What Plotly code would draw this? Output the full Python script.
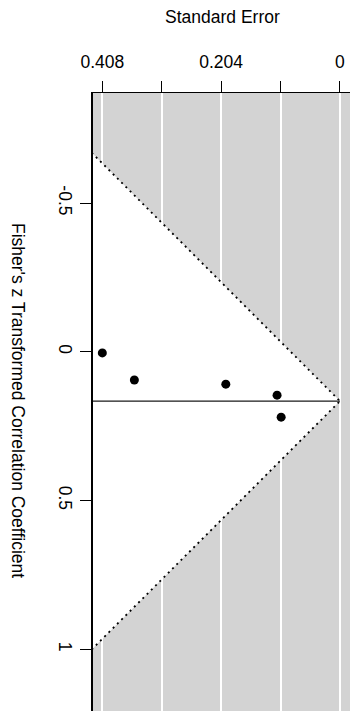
import plotly.graph_objects as go

# Data
se = [0.408, 0.353, 0.196, 0.108, 0.101]          # standard errors
zr = [0.004, 0.095, 0.109, 0.146, 0.220]          # Fisher's z values
estimate = 0.166                                   # pooled estimate
se_ticks = [0, 0.102, 0.204, 0.306, 0.408]
se_ticktext = ["0", "", "0.204", "", "0.408"]
z_ticks = [-0.5, 0, 0.5, 1]
z_ticktext = ["-0.5", "0", "0.5", "1"]
crit = 1.96

se_range = [0.424, -0.0172]
z_range = [1.208, -0.870]
se_ext = 0.47

FONT = "Liberation Sans, Arial, Helvetica, sans-serif"
FS = 17.5

fig = go.Figure()

# white funnel region
fig.add_trace(go.Scatter(
    x=[se_ext, 0, se_ext, se_ext],
    y=[estimate - crit * se_ext, estimate, estimate + crit * se_ext, estimate - crit * se_ext],
    mode="lines", fill="toself", fillcolor="white", line=dict(width=0),
    hoverinfo="skip", showlegend=False))

# dotted pseudo-confidence lines
for sgn in (-1, 1):
    fig.add_trace(go.Scatter(
        x=[se_ext, 0], y=[estimate + sgn * crit * se_ext, estimate],
        mode="lines", line=dict(color="black", width=1.8, dash="2px,4px"),
        hoverinfo="skip", showlegend=False))

# centre line
fig.add_trace(go.Scatter(
    x=[se_ext, 0], y=[estimate, estimate], mode="lines",
    line=dict(color="#1a1a1a", width=1.4), hoverinfo="skip", showlegend=False))

# studies
fig.add_trace(go.Scatter(
    x=se, y=zr, mode="markers",
    marker=dict(color="black", size=9, line=dict(width=0)),
    showlegend=False))

fig.update_xaxes(
    range=se_range, side="top", tickvals=se_ticks, ticktext=se_ticktext,
    showgrid=True, gridcolor="white", gridwidth=1.6,
    showline=True, linecolor="black", linewidth=1,
    ticks="outside", ticklen=11, tickcolor="black", tickwidth=1,
    ticklabelstandoff=6,
    zeroline=False, automargin=False,
    tickfont=dict(family=FONT, size=FS, color="black"))
fig.update_yaxes(
    range=z_range, tickvals=z_ticks, ticktext=z_ticktext, tickangle=90,
    showgrid=False, showline=True, linecolor="black", linewidth=1.5,
    ticks="outside", ticklen=11, tickcolor="black", tickwidth=1,
    zeroline=False, automargin=False,
    tickfont=dict(family=FONT, size=FS, color="black"))

W, H = 350, 711
L, T, R, B = 93, 93, 0, 0
pw, ph = W - L - R, H - T - B

fig.update_layout(
    width=W, height=H,
    margin=dict(l=L, r=R, t=T, b=B),
    plot_bgcolor="#d3d3d3", paper_bgcolor="white",
    font=dict(family=FONT, size=FS, color="black"),
    annotations=[
        dict(text="Standard Error", xref="paper", yref="paper",
             x=(222 - L) / pw, y=(H - 17) / ph, xanchor="center", yanchor="middle",
             showarrow=False, font=dict(family=FONT, size=FS, color="black")),
        dict(text="Fisher's z Transformed Correlation Coefficient", xref="paper", yref="paper",
             x=(18 - L) / pw, y=(H - 400) / ph, xanchor="center", yanchor="middle",
             textangle=90, showarrow=False, font=dict(family=FONT, size=FS, color="black")),
    ])

fig.write_html(
    "out.html",
    config={"displayModeBar": False},
    post_script="document.body.style.margin='0';document.body.style.padding='0';"
                "document.body.style.overflow='hidden';"
                "document.documentElement.style.overflow='hidden';")
